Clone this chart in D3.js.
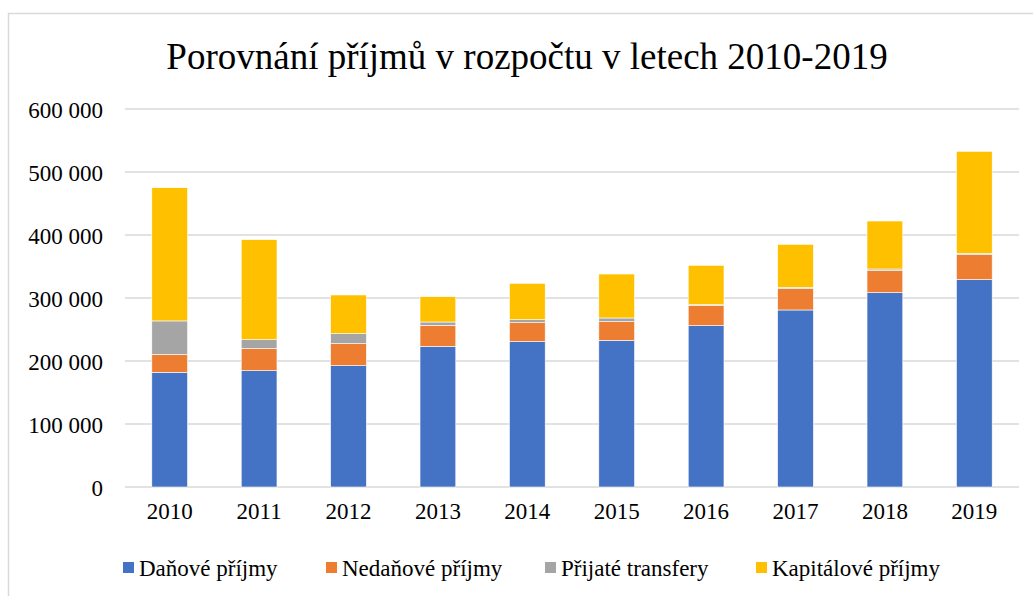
<!DOCTYPE html>
<html>
<head>
<meta charset="utf-8">
<script src="https://cdn.jsdelivr.net/npm/d3@7"></script>
<style>
  body { margin: 0; background: #fff; }
</style>
</head>
<body>
<script>
var years = ["2010","2011","2012","2013","2014","2015","2016","2017","2018","2019"];
var seriesNames = ["Daňové příjmy","Nedaňové příjmy","Přijaté transfery","Kapitálové příjmy"];
var danove     = [182000,184600,192600,223300,230700,232800,256100,281000,308500,329100];
var nedanove   = [28600, 35500, 34900, 33300, 30100, 29600, 32300, 33800, 34900, 39700];
var transfery  = [53000, 13700, 15900, 5300,  4800,  5900,  1000,  2200,  2600,  2200];
var kapitalove = [211500,158800,61400, 40200, 57700, 69800, 62500, 68200, 76200, 161800];
var yTicks = [0,100000,200000,300000,400000,500000,600000];
var colors = ["#4472C4","#ED7D31","#A5A5A5","#FFC000"];

var width = 1033, height = 596;
var margin = {top: 109, right: 14, bottom: 109, left: 125};
var serif = "'Liberation Serif', 'Times New Roman', Times, serif";

var svg = d3.select("body").append("svg")
    .attr("width", width)
    .attr("height", height);

// chart border
svg.append("rect")
    .attr("x", 8.5).attr("y", 13.5)
    .attr("width", 1030).attr("height", 600)
    .style("fill", "none")
    .style("stroke", "#d9d9d9")
    .style("stroke-width", 1.5);

svg.append("text")
    .attr("x", 527).attr("y", 69)
    .attr("text-anchor", "middle")
    .style("font-size", "37px")
    .text("Porovnání příjmů v rozpočtu v letech 2010-2019");

var rows = years.map(function(y, i) {
  return {year: y, s0: danove[i], s1: nedanove[i], s2: transfery[i], s3: kapitalove[i]};
});
var stack = d3.stack().keys(["s0","s1","s2","s3"])(rows);

var x = d3.scaleBand()
    .domain(years)
    .range([margin.left, width - margin.right])
    .paddingInner(0.6)
    .paddingOuter(0.3);

var y = d3.scaleLinear()
    .domain([0, 600000])
    .range([height - margin.bottom, margin.top]);

var fmt = function(d) { return d3.format(",")(d).replace(/,/g, " "); };

// gridlines
svg.append("g")
  .selectAll("line")
  .data(yTicks)
  .enter().append("line")
    .attr("x1", margin.left)
    .attr("x2", width - margin.right)
    .attr("y1", function(d) { return y(d); })
    .attr("y2", function(d) { return y(d); })
    .style("stroke", "#d9d9d9")
    .style("stroke-width", 1.5);

var yAxis = svg.append("g")
    .attr("transform", "translate(" + (margin.left - 22) + ",0)")
    .call(d3.axisLeft(y).tickValues(yTicks).tickFormat(fmt).tickSize(0).tickPadding(0));
yAxis.select(".domain").remove();
yAxis.selectAll("text").style("font-size", "23px").attr("dy", "0.35em");

var layers = svg.selectAll(".layer")
    .data(stack)
    .enter().append("g")
    .attr("class", "layer")
    .style("fill", function(d, i) { return colors[i]; });

layers.selectAll("rect")
    .data(function(d) { return d; })
    .enter().append("rect")
    .attr("x", function(d) { return x(d.data.year); })
    .attr("width", x.bandwidth())
    .attr("y", function(d) { return y(d[1]); })
    .attr("height", function(d) { return y(d[0]) - y(d[1]); })
    .style("stroke", "#fff")
    .style("stroke-width", 0.6);

var xAxis = svg.append("g")
    .attr("transform", "translate(0," + (height - margin.bottom) + ")")
    .call(d3.axisBottom(x).tickSize(0).tickPadding(16));
xAxis.select(".domain").remove();
xAxis.selectAll("text").style("font-size", "23px").attr("dy", "0.71em");

// legend
var legendX = [123, 326, 545, 756];
var legend = svg.selectAll(".legend")
    .data(seriesNames)
    .enter().append("g")
    .attr("class", "legend")
    .attr("transform", function(d, i) { return "translate(" + legendX[i] + ",568)"; });

legend.append("rect")
    .attr("x", 0).attr("y", -6)
    .attr("width", 11).attr("height", 11)
    .style("fill", function(d, i) { return colors[i]; });

legend.append("text")
    .attr("x", 16).attr("y", 0)
    .attr("dy", "0.35em")
    .style("font-size", "23px")
    .text(function(d) { return d; });

// same serif face everywhere, over the axis defaults
svg.selectAll("g").attr("font-family", null);
svg.selectAll("text")
    .style("font-family", serif)
    .style("fill", "#000");
</script>
</body>
</html>
